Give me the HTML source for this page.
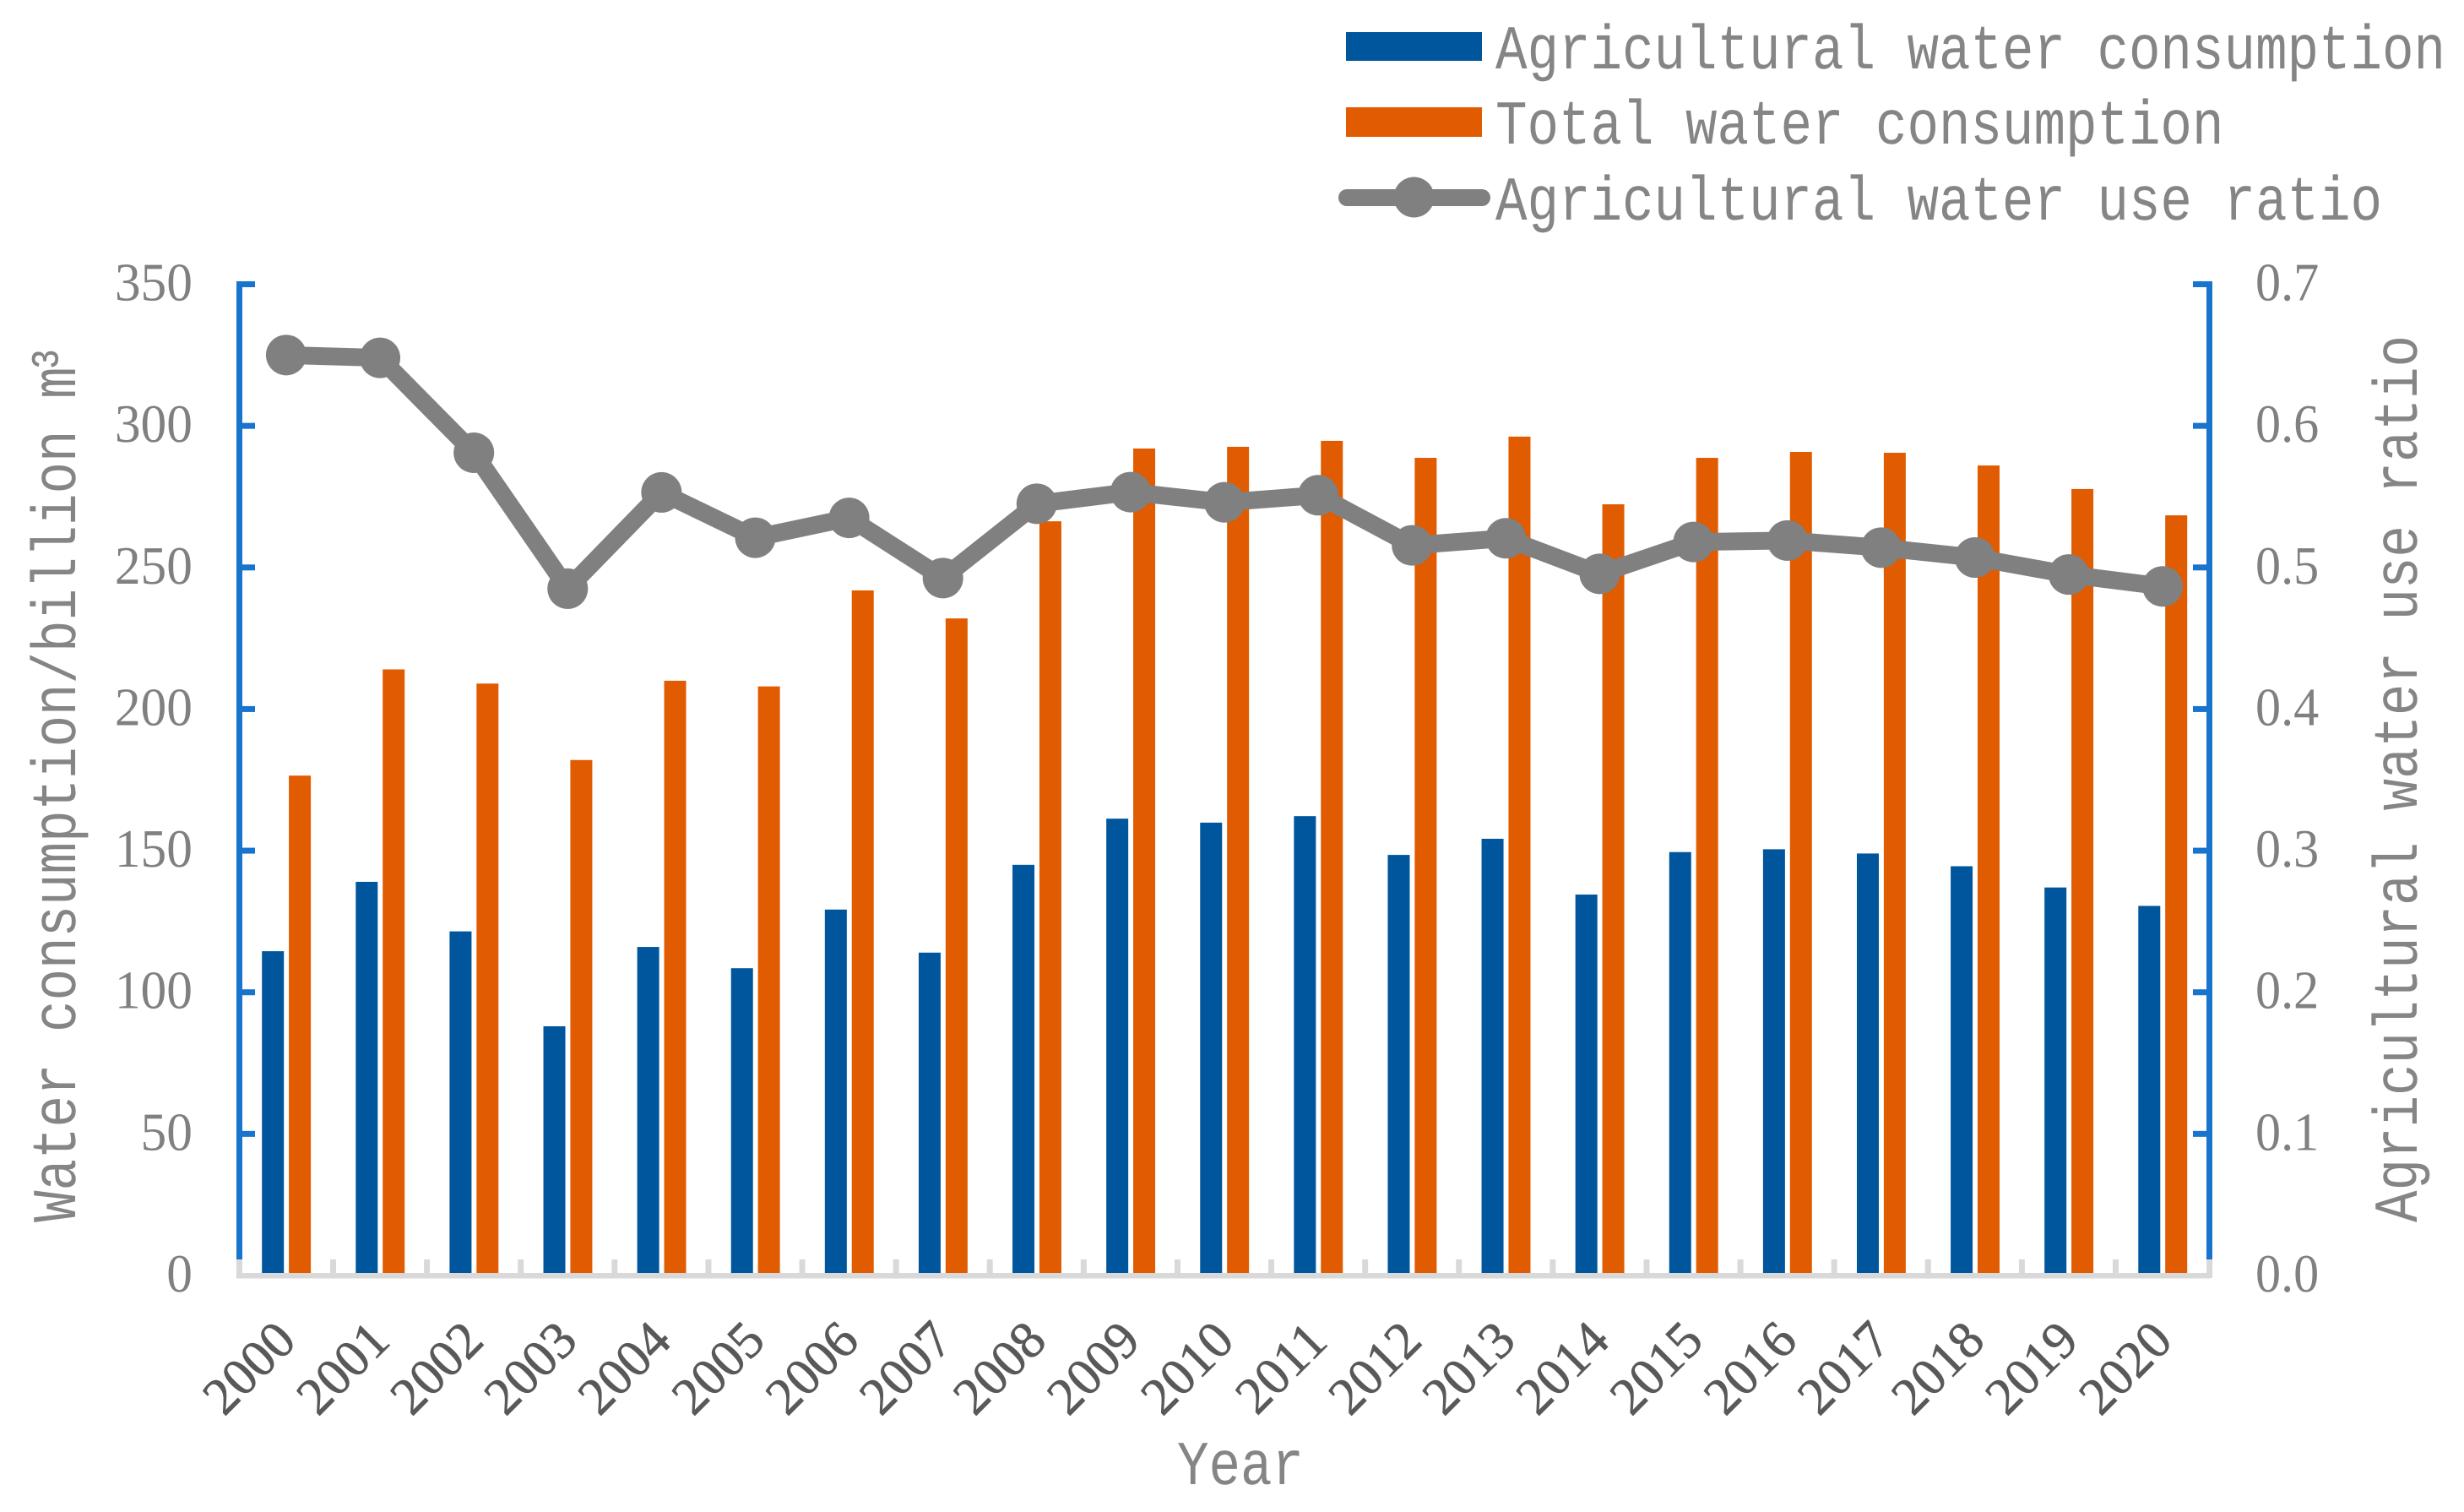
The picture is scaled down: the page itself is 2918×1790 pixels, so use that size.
<!DOCTYPE html>
<html lang="en">
<head>
<meta charset="utf-8">
<title>Water consumption chart</title>
<style>
html,body{margin:0;padding:0;background:#fff;width:2918px;height:1790px;overflow:hidden}
svg{display:block}
text{font-family:"Liberation Serif","Noto Serif CJK SC",serif;text-rendering:geometricPrecision}
.mono{font-family:"Liberation Mono",monospace;font-size:74px;fill:#858585;text-anchor:middle;white-space:pre}
.tick{font-size:64px;fill:#808080}
.year{font-size:62px;fill:#595959;stroke:#595959;stroke-width:0.7;text-anchor:middle}
</style>
</head>
<body>
<svg id="chart" xmlns="http://www.w3.org/2000/svg" width="2918" height="1790" viewBox="0 0 2918 1790">
  <rect x="0" y="0" width="2918" height="1790" fill="#ffffff"/>

  <g id="axes"></g>
  <g id="bars"></g>
  <g id="line"></g>
  <g id="labels"></g>

  <g transform="translate(89,1447) rotate(-90)">
    <text class="mono" data-adv="37.5" transform="scale(0.845,1)">Water consumption/billion m³</text>
  </g>
  <g transform="translate(2862,1447) rotate(-90)">
    <text class="mono" data-adv="37.5" transform="scale(0.845,1)">Agricultural water use ratio</text>
  </g>
  <g transform="translate(1394,1757)">
    <text class="mono" data-adv="37.5" transform="scale(0.845,1)">Year</text>
  </g>

  <g>
    <g>
      <rect x="1594" y="38" width="161" height="34" fill="#00569C"/>
      <g transform="translate(1771,81)"><text class="mono" data-adv="37.5" transform="scale(0.845,1)">Agricultural water consumption</text></g>
    </g>
    <g>
      <rect x="1594" y="127" width="161" height="35" fill="#E15B00"/>
      <g transform="translate(1771,170)"><text class="mono" data-adv="37.5" transform="scale(0.845,1)">Total water consumption</text></g>
    </g>
    <g>
      <line x1="1595" y1="234" x2="1755" y2="234" stroke="#808080" stroke-width="20" stroke-linecap="round"/>
      <circle cx="1674.5" cy="233.5" r="24" fill="#808080"/>
      <g transform="translate(1771,260)"><text class="mono" data-adv="37.5" transform="scale(0.845,1)">Agricultural water use ratio</text></g>
    </g>
  </g>
</svg>

<script>
const years = [2000,2001,2002,2003,2004,2005,2006,2007,2008,2009,2010,2011,2012,2013,2014,2015,2016,2017,2018,2019,2020];
const agriculturalConsumption = [114.5,139,121.5,88,116,108.5,129.2,114,145,161.3,159.9,162.2,148.5,154.2,134.5,149.5,150.5,149,144.5,137,130.5];
const totalConsumption = [176.5,214,209,182,210,208,241.9,232,266.3,292,292.6,294.7,288.7,296.2,272.3,288.7,290.8,290.5,286,277.7,268.4];
const agriculturalRatio = [0.650,0.648,0.581,0.485,0.553,0.521,0.535,0.4925,0.545,0.5532,0.546,0.551,0.5156,0.5206,0.4955,0.518,0.519,0.514,0.507,0.495,0.4866];
const leftTicks = [0,50,100,150,200,250,300,350];
const rightTicks = ["0.0","0.1","0.2","0.3","0.4","0.5","0.6","0.7"];

const NS = "http://www.w3.org/2000/svg";
const plotLeft = 283.4, plotRight = 2616.6, plotBottom = 1510, plotTop = 336.5;
const leftMax = 350, rightMax = 0.7;
const band = (plotRight - plotLeft) / years.length;
const xBandStart = i => plotLeft + i * band;
const xCenter = i => xBandStart(i) + band / 2;
const yLeft = v => plotBottom - (v / leftMax) * (plotBottom - plotTop);
const yRight = v => plotBottom - (v / rightMax) * (plotBottom - plotTop);

function mk(parent, tag, attrs) {
  const el = document.createElementNS(NS, tag);
  for (const k in attrs) el.setAttribute(k, attrs[k]);
  parent.appendChild(el);
  return el;
}

const axes = document.getElementById("axes");
const bars = document.getElementById("bars");
const lineG = document.getElementById("line");
const labels = document.getElementById("labels");
const BLUE = "#1874CD", GRAY = "#D9D9D9", AXIS_BREAK = 1491;

/* category axis */
const baseline = mk(axes, "rect", {x: 280, y: 1507, width: 2337, height: 6.5, fill: GRAY});


for (let i = 0; i <= years.length; i++) {
  const t = mk(axes, "rect", {x: xBandStart(i) - 3.5, y: AXIS_BREAK, width: 7, height: i === 0 || i === years.length ? 22 : 17, fill: GRAY});
  
  
}

/* value axes */
const leftAxis = mk(axes, "rect", {x: 280, y: plotTop - 3.5, width: 7, height: AXIS_BREAK - plotTop + 3.5, fill: BLUE});


const rightAxis = mk(axes, "rect", {x: 2613, y: plotTop - 3.5, width: 7, height: AXIS_BREAK - plotTop + 3.5, fill: BLUE});



leftTicks.forEach(v => {
  const y = yLeft(v);
  if (v > 0) {
    const m = mk(axes, "rect", {x: 283, y: y - 3.5, width: 19, height: 7, fill: BLUE});
    
    
  }
  const t = mk(labels, "text", {class: "tick", "text-anchor": "end", transform: `translate(228,${y + 19}) scale(0.96,1)`});
  
  
  t.textContent = v;
});

rightTicks.forEach(s => {
  const v = Number(s);
  const y = yRight(v);
  if (v > 0) {
    const m = mk(axes, "rect", {x: 2597, y: y - 3.5, width: 20, height: 7, fill: BLUE});
    
    
  }
  const t = mk(labels, "text", {class: "tick", "text-anchor": "start", transform: `translate(2671,${y + 19}) scale(0.94,1)`});
  
  
  t.textContent = s;
});

/* bars */
years.forEach((yr, i) => {
  const a = agriculturalConsumption[i];
  const ya = yLeft(a);
  const r1 = mk(bars, "rect", {x: xBandStart(i) + 26.8, y: ya, width: 26, height: plotBottom - 3 - ya, fill: "#00569C"});
  
  
  const b = totalConsumption[i];
  const yb = yLeft(b);
  const r2 = mk(bars, "rect", {x: xBandStart(i) + 58.7, y: yb, width: 26, height: plotBottom - 3 - yb, fill: "#E15B00"});
  
  

  const t = mk(labels, "text", {class: "year", transform: `translate(${xCenter(i) - 44.5},1619) rotate(-45) translate(0,21)`});
  
  
  t.textContent = yr;
});

/* ratio line */
const pts = agriculturalRatio.map((v, i) => xCenter(i) + "," + yRight(v)).join(" ");
const poly = mk(lineG, "polyline", {points: pts, fill: "none", stroke: "#808080", "stroke-width": 21, "stroke-linejoin": "round"});


agriculturalRatio.forEach((v, i) => {
  const c = mk(lineG, "circle", {cx: xCenter(i), cy: yRight(v), r: 24, fill: "#808080"});
  
  
});

/* monospaced title / legend text: centre each glyph in a fixed-width cell */
document.querySelectorAll("text.mono").forEach(el => {
  const chars = Array.from(el.textContent);
  const adv = Number(el.getAttribute("data-adv"));
  const sx = 0.845;
  let pos = 0;
  const xs = chars.map(ch => {
    const w = ch === "³" ? adv / 2 : adv;
    const c = (pos + w / 2) / sx;
    pos += w;
    return c.toFixed(1);
  });
  el.setAttribute("x", xs.join(" "));
  el.setAttribute("xml:space", "preserve");
});
</script>
</body>
</html>
